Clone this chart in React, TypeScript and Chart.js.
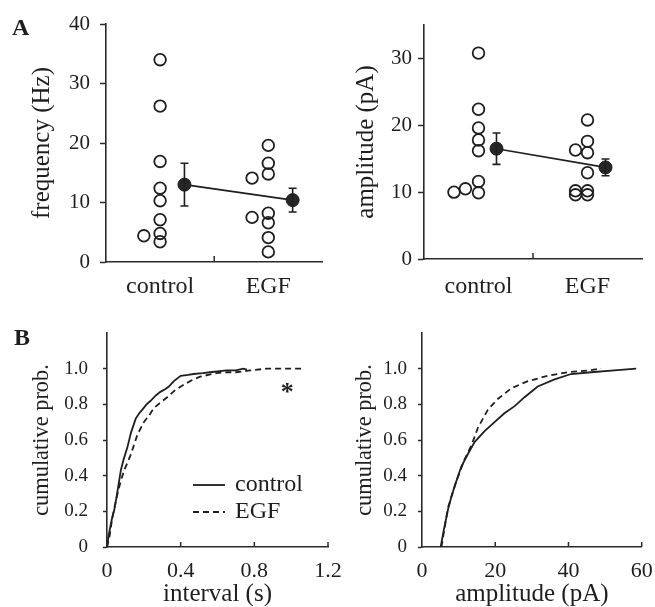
import React, { useEffect, useRef } from 'react';
import { Chart, registerables } from 'chart.js';

Chart.register(...registerables);

// ---------- data ----------
const groups = ['control', 'EGF'];

// Panel A (left): frequency (Hz), individual cells
const freqControl = [34.0, 26.2, 16.9, 12.4, 10.3, 7.1, 4.8, 3.4, 4.4];
const freqControlJitter = [0, 0, 0, 0, 0, 0, 0, 0, -0.3];
const freqEGF = [19.6, 16.6, 14.8, 8.2, 6.6, 4.1, 1.7, 14.1, 7.5];
const freqEGFJitter = [0, 0, 0, 0, 0, 0, 0, -0.3, -0.3];
const freqMean = [13.0, 10.4];
const freqSEM = [3.6, 2.0];

// Panel A (right): amplitude (pA), individual cells
const ampControl = [30.8, 22.4, 19.6, 17.8, 16.2, 11.6, 9.9, 10.5, 10.0];
const ampControlJitter = [0, 0, 0, 0, 0, 0, 0, -0.24, -0.45];
const ampEGF = [20.8, 17.6, 15.9, 12.9, 10.2, 9.6, 16.3, 10.2, 9.6];
const ampEGFJitter = [0, 0, 0, 0, 0, 0, -0.22, -0.22, -0.22];
const ampMean = [16.5, 13.7];
const ampSEM = [2.35, 1.25];

// Panel B (left): cumulative distribution of inter-event interval (s)
const intervalControlX = [0, 0.01, 0.025, 0.04, 0.055, 0.075, 0.09, 0.111, 0.13, 0.156, 0.175, 0.192, 0.215, 0.237, 0.265, 0.29, 0.315, 0.336, 0.363, 0.4, 0.44, 0.47, 0.52, 0.56, 0.65, 0.7, 0.74, 0.76];
const intervalControlY = [0, 0.07, 0.15, 0.21, 0.3, 0.43, 0.49, 0.56, 0.64, 0.72, 0.75, 0.77, 0.8, 0.82, 0.85, 0.87, 0.885, 0.9, 0.93, 0.96, 0.965, 0.97, 0.975, 0.98, 0.99, 0.99, 1.0, 0.995];
const intervalEGFX = [0, 0.013, 0.03, 0.057, 0.075, 0.093, 0.11, 0.13, 0.165, 0.2, 0.23, 0.255, 0.29, 0.327, 0.37, 0.417, 0.46, 0.506, 0.55, 0.596, 0.65, 0.7, 0.776, 0.865, 0.95, 1.054];
const intervalEGFY = [0, 0.056, 0.17, 0.3, 0.37, 0.43, 0.47, 0.52, 0.63, 0.7, 0.74, 0.78, 0.81, 0.84, 0.88, 0.91, 0.935, 0.955, 0.965, 0.975, 0.98, 0.98, 0.99, 1.0, 1.0, 1.0];

// Panel B (right): cumulative distribution of amplitude (pA)
const ampCumControlX = [5.1, 6, 7.1, 8, 8.9, 10.7, 12.5, 14.4, 17.1, 19.8, 22.5, 25.3, 28, 31.6, 36.2, 40.7, 46.2, 52.5, 58.5];
const ampCumControlY = [0, 0.1, 0.21, 0.28, 0.34, 0.45, 0.52, 0.59, 0.65, 0.7, 0.75, 0.79, 0.84, 0.9, 0.94, 0.97, 0.98, 0.99, 1.0];
const ampCumEGFX = [5.3, 6.2, 7.1, 8.3, 9.4, 11.6, 13.5, 15.3, 18, 20.7, 24.4, 28.9, 34.4, 39.8, 45.3, 48.9];
const ampCumEGFY = [0, 0.11, 0.22, 0.3, 0.37, 0.49, 0.57, 0.67, 0.77, 0.83, 0.89, 0.93, 0.96, 0.98, 0.99, 1.0];

// tick labels
const freqTicks = [0, 10, 20, 30, 40];
const ampTicks = [0, 10, 20, 30];
const probTicks = [0, 0.2, 0.4, 0.6, 0.8, 1.0];
const intervalTicks = [0, 0.4, 0.8, 1.2];
const ampCumTicks = [0, 20, 40, 60];

// ---------- styles ----------
const SERIF = '"Liberation Serif", "Times New Roman", serif';
const INK = '#1e1e1e';
const AXIS = '#2a2a2a';
const GROUP_X = [1, 3];

// ---------- plugins ----------
const inwardTicks = {
  id: 'inwardTicks',
  afterDraw(chart: any, _a: any, opts: any) {
    const vals: number[] = opts && opts.values;
    if (!vals) return;
    const xs = chart.scales.x;
    const ctx = chart.ctx;
    ctx.save();
    ctx.strokeStyle = AXIS;
    ctx.lineWidth = 1.5;
    vals.forEach((v) => {
      const px = xs.getPixelForValue(v);
      ctx.beginPath();
      ctx.moveTo(px, xs.top);
      ctx.lineTo(px, xs.top - (opts.length || 5));
      ctx.stroke();
    });
    ctx.restore();
  },
};

const errorBars = {
  id: 'errorBars',
  afterDatasetsDraw(chart: any, _a: any, opts: any) {
    if (!opts || opts.datasetIndex === undefined) return;
    const meta = chart.getDatasetMeta(opts.datasetIndex);
    const ds = chart.data.datasets[opts.datasetIndex];
    const ys = chart.scales.y;
    const ctx = chart.ctx;
    ctx.save();
    ctx.strokeStyle = INK;
    ctx.lineWidth = 1.6;
    meta.data.forEach((pt: any, i: number) => {
      const m = ds.data[i].y;
      const e = opts.errors[i];
      const t = ys.getPixelForValue(m + e);
      const b = ys.getPixelForValue(m - e);
      ctx.beginPath();
      ctx.moveTo(pt.x, t);
      ctx.lineTo(pt.x, b);
      ctx.moveTo(pt.x - 4, t);
      ctx.lineTo(pt.x + 4, t);
      ctx.moveTo(pt.x - 4, b);
      ctx.lineTo(pt.x + 4, b);
      ctx.stroke();
    });
    ctx.restore();
  },
};

const lineLegend = {
  id: 'lineLegend',
  afterDraw(chart: any, _a: any, opts: any) {
    if (!opts || !opts.show) return;
    const ctx = chart.ctx;
    const area = chart.chartArea;
    ctx.save();
    chart.data.datasets.forEach((ds: any, i: number) => {
      const y = area.top + opts.y0 + i * opts.gap;
      const x0 = area.left + opts.x0;
      ctx.strokeStyle = ds.borderColor;
      ctx.lineWidth = ds.borderWidth;
      ctx.setLineDash(ds.borderDash || []);
      ctx.beginPath();
      ctx.moveTo(x0, y);
      ctx.lineTo(x0 + opts.len, y);
      ctx.stroke();
      ctx.setLineDash([]);
      ctx.fillStyle = INK;
      ctx.font = `${opts.size}px ${SERIF}`;
      ctx.textBaseline = 'middle';
      ctx.textAlign = 'left';
      ctx.fillText(ds.label, x0 + opts.len + opts.textGap, y);
    });
    ctx.restore();
  },
};

const starMark = {
  id: 'starMark',
  afterDraw(chart: any, _a: any, opts: any) {
    if (!opts || !opts.text) return;
    const ctx = chart.ctx;
    const px = chart.scales.x.getPixelForValue(opts.x);
    const py = chart.scales.y.getPixelForValue(opts.y);
    ctx.save();
    ctx.fillStyle = INK;
    ctx.font = `bold ${opts.size}px ${SERIF}`;
    ctx.textAlign = 'center';
    ctx.textBaseline = 'alphabetic';
    ctx.fillText(opts.text, px, py + opts.size * 0.47);
    ctx.restore();
  },
};

// ---------- helpers ----------
function cellPoints(values: number[], jitter: number[], g: number) {
  return values.map((v, i) => ({ x: GROUP_X[g] + jitter[i], y: v }));
}
function curve(xs: number[], ys: number[]) {
  return xs.map((x, i) => ({ x, y: ys[i] }));
}
function fixedTicks(values: number[]) {
  return (s: any) => {
    s.ticks = values.map((v) => ({ value: v }));
  };
}
const fmtProb = (v: any) => (Number(v) === 0 ? '0' : Number(v).toFixed(1));

function scatterPanel(opts: {
  control: { x: number; y: number }[];
  egf: { x: number; y: number }[];
  means: number[];
  sems: number[];
  meanOffset: number;
  yMax: number;
  yTicks: number[];
  yTitle: string;
  yWidth: number;
  xHeight: number;
  titlePad: number;
  yTickPad: number;
  xTickPad: number;
  padTop: number;
  padRight: number;
}) {
  return {
    type: 'scatter',
    data: {
      datasets: [
        {
          label: 'cells',
          data: [...opts.control, ...opts.egf],
          pointRadius: 5.8,
          pointBorderWidth: 1.8,
          pointBorderColor: INK,
          pointBackgroundColor: 'rgba(255,255,255,0)',
        },
        {
          label: 'mean',
          data: opts.means.map((m, i) => ({ x: GROUP_X[i] + opts.meanOffset, y: m })),
          showLine: true,
          borderColor: INK,
          borderWidth: 1.6,
          pointRadius: 6.5,
          pointBorderWidth: 1,
          pointBorderColor: INK,
          pointBackgroundColor: '#262626',
        },
      ],
    },
    options: {
      responsive: false,
      animation: false,
      devicePixelRatio: 1,
      events: [],
      layout: { padding: { top: opts.padTop, right: opts.padRight, left: 0, bottom: 0 } },
      plugins: {
        legend: { display: false },
        tooltip: { enabled: false },
        inwardTicks: { values: [2], length: 6 },
        errorBars: { datasetIndex: 1, errors: opts.sems },
      },
      scales: {
        x: {
          type: 'linear',
          min: 0,
          max: 4,
          afterBuildTicks: fixedTicks(GROUP_X),
          afterFit: (s: any) => {
            s.height = opts.xHeight;
          },
          ticks: {
            callback: (v: any) => groups[GROUP_X.indexOf(Number(v))],
            font: { family: SERIF, size: 24 },
            color: INK,
            padding: opts.xTickPad,
            maxRotation: 0,
            autoSkip: false,
          },
          grid: { display: false, drawTicks: false },
          border: { display: true, color: AXIS, width: 1.6 },
        },
        y: {
          min: 0,
          max: opts.yMax,
          afterBuildTicks: fixedTicks(opts.yTicks),
          afterFit: (s: any) => {
            s.width = opts.yWidth;
          },
          ticks: { font: { family: SERIF, size: 21 }, color: INK, padding: opts.yTickPad },
          grid: { drawOnChartArea: false, drawTicks: true, tickLength: 6, tickColor: AXIS, tickWidth: 1.5 },
          border: { display: true, color: AXIS, width: 1.6 },
          title: {
            display: true,
            text: opts.yTitle,
            color: INK,
            font: { family: SERIF, size: 25, lineHeight: 1 },
            padding: { top: opts.titlePad, bottom: 0 },
          },
        },
      },
    },
    plugins: [inwardTicks, errorBars],
  };
}

function cumPanel(opts: {
  control: { x: number; y: number }[];
  egf: { x: number; y: number }[];
  xMax: number;
  xTicks: number[];
  xFmt: (v: any) => string;
  xTitle: string;
  yWidth: number;
  titlePad: number;
  yTickPad: number;
  padRight: number;
  legend: boolean;
  star: boolean;
}) {
  return {
    type: 'scatter',
    data: {
      datasets: [
        {
          label: groups[0],
          data: opts.control,
          showLine: true,
          borderColor: INK,
          borderWidth: 1.8,
          pointRadius: 0,
        },
        {
          label: groups[1],
          data: opts.egf,
          showLine: true,
          borderColor: INK,
          borderWidth: 1.8,
          borderDash: [6, 4],
          pointRadius: 0,
        },
      ],
    },
    options: {
      responsive: false,
      animation: false,
      devicePixelRatio: 1,
      events: [],
      layout: { padding: { top: 33, right: opts.padRight, left: 0, bottom: 0 } },
      plugins: {
        legend: { display: false },
        tooltip: { enabled: false },
        inwardTicks: { values: opts.xTicks.filter((v) => v > 0), length: 5 },
        lineLegend: { show: opts.legend, x0: 86, len: 32, textGap: 10, y0: 152, gap: 27, size: 24 },
        starMark: opts.star ? { text: '*', x: 0.979, y: 0.895, size: 26 } : { text: '' },
      },
      scales: {
        x: {
          type: 'linear',
          min: 0,
          max: opts.xMax,
          afterBuildTicks: fixedTicks(opts.xTicks),
          afterFit: (s: any) => {
            s.height = 60;
          },
          ticks: {
            callback: opts.xFmt,
            font: { family: SERIF, size: 22 },
            color: INK,
            padding: 11,
            maxRotation: 0,
            autoSkip: false,
          },
          grid: { display: false, drawTicks: false },
          border: { display: true, color: AXIS, width: 1.6 },
          title: {
            display: true,
            text: opts.xTitle,
            color: INK,
            font: { family: SERIF, size: 25, lineHeight: 1 },
            padding: { top: 0, bottom: 0 },
          },
        },
        y: {
          min: 0,
          max: 1.2,
          afterBuildTicks: fixedTicks(probTicks),
          afterFit: (s: any) => {
            s.width = opts.yWidth;
          },
          ticks: { callback: fmtProb, font: { family: SERIF, size: 19 }, color: INK, padding: opts.yTickPad },
          grid: { drawOnChartArea: false, drawTicks: true, tickLength: 4, tickColor: AXIS, tickWidth: 1.5 },
          border: { display: true, color: AXIS, width: 1.6 },
          title: {
            display: true,
            text: 'cumulative prob.',
            color: INK,
            font: { family: SERIF, size: 22.4, lineHeight: 1 },
            padding: { top: opts.titlePad, bottom: 0 },
          },
        },
      },
    },
    plugins: [inwardTicks, lineLegend, starMark],
  };
}

function Panel(props: { left: number; top: number; width: number; height: number; make: () => any }) {
  const ref = useRef<HTMLCanvasElement>(null);
  useEffect(() => {
    const chart = new Chart(ref.current as HTMLCanvasElement, props.make());
    return () => chart.destroy();
  }, []);
  return (
    <canvas
      ref={ref}
      width={props.width}
      height={props.height}
      style={{ position: 'absolute', left: props.left, top: props.top, width: props.width, height: props.height }}
    />
  );
}

const letterStyle: React.CSSProperties = {
  position: 'absolute',
  fontFamily: SERIF,
  fontWeight: 'bold',
  fontSize: 24,
  lineHeight: 1,
  color: INK,
};

export default function App() {
  return (
    <div style={{ position: 'absolute', left: 0, top: 0, width: 655, height: 607, background: '#fff', overflow: 'hidden' }}>
      <Panel
        left={0}
        top={0}
        width={330}
        height={306}
        make={() =>
          scatterPanel({
            control: cellPoints(freqControl, freqControlJitter, 0),
            egf: cellPoints(freqEGF, freqEGFJitter, 1),
            means: freqMean,
            sems: freqSEM,
            meanOffset: 0.45,
            yMax: 40,
            yTicks: freqTicks,
            yTitle: 'frequency (Hz)',
            yWidth: 106,
            xHeight: 44,
            titlePad: 30,
            yTickPad: 10,
            xTickPad: 10.5,
            padTop: 24,
            padRight: 5,
          })
        }
      />
      <Panel
        left={330}
        top={0}
        width={325}
        height={306}
        make={() =>
          scatterPanel({
            control: cellPoints(ampControl, ampControlJitter, 0),
            egf: cellPoints(ampEGF, ampEGFJitter, 1),
            means: ampMean,
            sems: ampSEM,
            meanOffset: 0.33,
            yMax: 35,
            yTicks: ampTicks,
            yTitle: 'amplitude (pA)',
            yWidth: 94,
            xHeight: 47,
            titlePad: 24,
            yTickPad: 6,
            xTickPad: 13.5,
            padTop: 25,
            padRight: 13,
          })
        }
      />
      <Panel
        left={0}
        top={300}
        width={354}
        height={307}
        make={() =>
          cumPanel({
            control: curve(intervalControlX, intervalControlY),
            egf: curve(intervalEGFX, intervalEGFY),
            xMax: 1.2,
            xTicks: intervalTicks,
            xFmt: fmtProb,
            xTitle: 'interval (s)',
            yWidth: 107,
            titlePad: 30.5,
            yTickPad: 15,
            padRight: 26,
            legend: true,
            star: true,
          })
        }
      />
      <Panel
        left={340}
        top={300}
        width={326}
        height={307}
        make={() =>
          cumPanel({
            control: curve(ampCumControlX, ampCumControlY),
            egf: curve(ampCumEGFX, ampCumEGFY),
            xMax: 60,
            xTicks: ampCumTicks,
            xFmt: (v: any) => String(v),
            xTitle: 'amplitude (pA)',
            yWidth: 82,
            titlePad: 13.8,
            yTickPad: 11,
            padRight: 24.3,
            legend: false,
            star: false,
          })
        }
      />
      <div style={{ ...letterStyle, left: 12, top: 15 }}>A</div>
      <div style={{ ...letterStyle, left: 14, top: 325 }}>B</div>
    </div>
  );
}
